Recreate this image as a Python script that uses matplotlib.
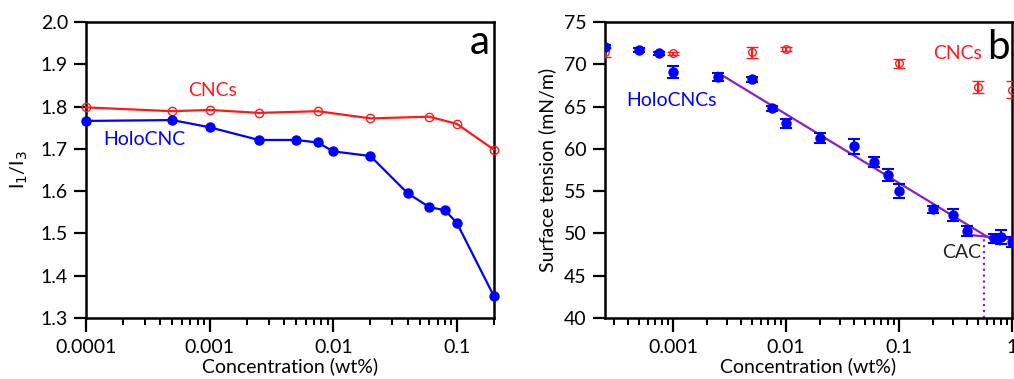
import matplotlib
matplotlib.use("Agg")
import matplotlib.pyplot as plt
import numpy as np
from matplotlib.ticker import LogLocator, NullFormatter, FixedLocator, FixedFormatter

plt.rcParams['font.family'] = ['Lato', 'DejaVu Sans']

# Panel a data
conc_a_cnc = [1e-4, 5e-4, 1e-3, 2.5e-3, 7.5e-3, 0.02, 0.06, 0.1, 0.2]
ratio_cnc = [1.798, 1.789, 1.792, 1.785, 1.789, 1.772, 1.776, 1.759, 1.698]
conc_a_holo = [1e-4, 5e-4, 1e-3, 2.5e-3, 5e-3, 7.5e-3, 0.01, 0.02, 0.04, 0.06, 0.08, 0.1, 0.2]
ratio_holo = [1.766, 1.768, 1.751, 1.721, 1.721, 1.715, 1.694, 1.683, 1.595, 1.562, 1.555, 1.525, 1.351]

# Panel b data
conc_b_holo = [2.5e-4, 5e-4, 7.5e-4, 1e-3, 2.5e-3, 5e-3, 7.5e-3, 0.01, 0.02, 0.04, 0.06, 0.08, 0.1,
               0.2, 0.3, 0.4, 0.7, 0.8, 1.0]
st_holo = [72.1, 71.7, 71.3, 69.1, 68.5, 68.25, 64.8, 63.0, 61.3, 60.3, 58.4, 56.9, 55.0,
           52.85, 52.15, 50.3, 49.4, 49.6, 49.0]
st_holo_err = [0.2, 0.2, 0.2, 0.7, 0.5, 0.3, 0.3, 0.5, 0.6, 0.9, 0.6, 0.7, 0.8,
               0.4, 0.7, 0.6, 0.5, 0.8, 0.6]
conc_b_cnc = [2.5e-4, 1e-3, 5e-3, 0.01, 0.1, 0.5, 1.0]
st_cnc = [71.4, 71.3, 71.4, 71.8, 70.1, 67.3, 67.0]
st_cnc_err = [0.5, 0.2, 0.6, 0.2, 0.5, 0.7, 1.0]

fit1_x = [2.5e-3, 0.78]
fit1_y = [69.0, 48.7]
fit2_x = [0.4, 1.0]
fit2_y = [49.85, 49.3]
cac_x = 0.57
cac_y = 49.8

blue = '#0000ff'
red = '#ff1a1a'
purple = '#8a1fc4'

fig = plt.figure(figsize=(10.14, 3.79), dpi=100)
ax1 = fig.add_axes([0.0848, 0.161, 0.4024, 0.781])
ax2 = fig.add_axes([0.5966, 0.161, 0.4014, 0.781])

def style(ax):
    for s in ax.spines.values():
        s.set_linewidth(1.8)
    ax.tick_params(which='major', direction='out', length=10, width=1.6, labelsize=14,
                   top=False, right=False, pad=4)
    ax.tick_params(axis='x', which='major', pad=5)
    ax.tick_params(which='minor', direction='out', length=5, width=1.4, top=False, right=False)
    ax.tick_params(axis='y', which='major', length=9)

# Panel a
ax1.plot(conc_a_cnc, ratio_cnc, '-o', color=red, mfc='none', mec=red, ms=6, lw=1.6, mew=1.0, clip_on=False, zorder=3)
ax1.plot(conc_a_holo, ratio_holo, '-o', color=blue, ms=6.5, lw=1.6, clip_on=False, zorder=3)
ax1.set_xscale('log')
ax1.set_xlim(1e-4, 0.2)
ax1.set_ylim(1.3, 2.0)
ax1.set_yticks(np.arange(1.3, 2.01, 0.1))
ax1.set_yticklabels([f"{v:.1f}" for v in np.arange(1.3, 2.01, 0.1)])
ax1.xaxis.set_major_locator(FixedLocator([1e-4, 1e-3, 1e-2, 1e-1]))
ax1.xaxis.set_major_formatter(FixedFormatter(['0.0001', '0.001', '0.01', '0.1']))
ax1.xaxis.set_minor_locator(LogLocator(base=10, subs=np.arange(2, 10), numticks=20))
ax1.xaxis.set_minor_formatter(NullFormatter())
style(ax1)
ax1.set_xlabel('Concentration (wt%)', fontsize=14, labelpad=1)
ax1.set_ylabel('I$_1$/I$_3$', fontsize=14, labelpad=8)
ax1.text(0.99, 0.93, 'a', transform=ax1.transAxes, fontsize=29, ha='right', va='center')
ax1.text(1.05e-3, 1.839, 'CNCs', color=red, fontsize=14, ha='center', va='center')
ax1.text(1.37e-4, 1.723, 'HoloCNC', color=blue, fontsize=14, ha='left', va='center')

# Panel b
ax2.plot(fit1_x, fit1_y, '-', color=purple, lw=1.6, zorder=2)
ax2.plot(fit2_x, fit2_y, '-', color=purple, lw=1.6, zorder=2)
ax2.plot([cac_x, cac_x], [40, cac_y], ':', color=purple, lw=1.6, zorder=2)
ax2.errorbar(conc_b_cnc, st_cnc, yerr=st_cnc_err, fmt='o', color=red, mfc='none', mec=red,
             ms=5.5, mew=1.0, elinewidth=1.5, capsize=4, capthick=1.5, zorder=3)
ax2.errorbar(conc_b_holo, st_holo, yerr=st_holo_err, fmt='o', color=blue, ms=6.5,
             elinewidth=1.5, capsize=4, capthick=1.5, zorder=4)
ax2.set_xscale('log')
ax2.set_xlim(2.5e-4, 1.0)
ax2.set_ylim(40, 75)
ax2.set_yticks(np.arange(40, 76, 5))
ax2.xaxis.set_major_locator(FixedLocator([1e-3, 1e-2, 1e-1, 1]))
ax2.xaxis.set_major_formatter(FixedFormatter(['0.001', '0.01', '0.1', '1']))
ax2.xaxis.set_minor_locator(LogLocator(base=10, subs=np.arange(2, 10), numticks=20))
ax2.xaxis.set_minor_formatter(NullFormatter())
style(ax2)
ax2.set_xlabel('Concentration (wt%)', fontsize=14, labelpad=1)
ax2.set_ylabel('Surface tension (mN/m)', fontsize=14, labelpad=6)
ax2.text(0.995, 0.915, 'b', transform=ax2.transAxes, fontsize=29, ha='right', va='center')
ax2.text(0.33, 71.3, 'CNCs', color=red, fontsize=14, ha='center', va='center')
ax2.text(9.7e-4, 65.7, 'HoloCNCs', color=blue, fontsize=14, ha='center', va='center')
ax2.text(0.36, 47.8, 'CAC', color='#222222', fontsize=14, ha='center', va='center')

fig.savefig('out.png', dpi=100)
